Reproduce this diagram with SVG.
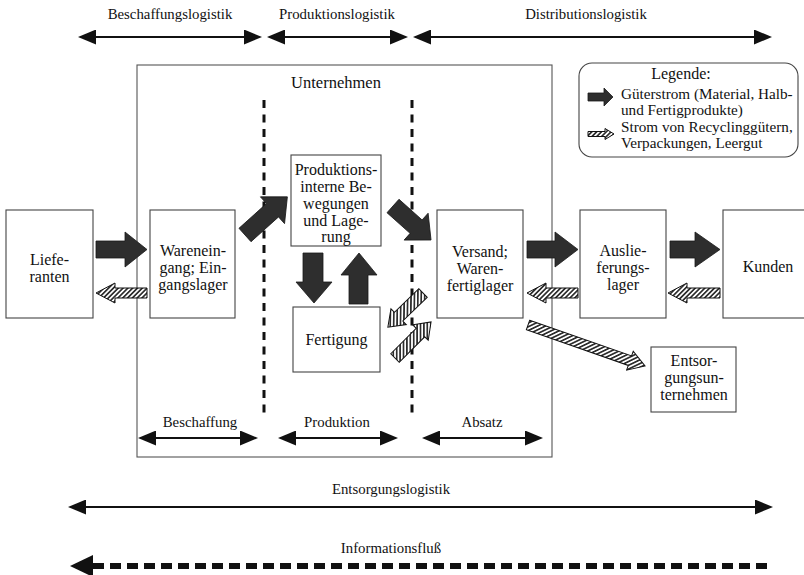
<svg xmlns="http://www.w3.org/2000/svg" width="804" height="575" viewBox="0 0 804 575">
  <style>
    text { font-family: "Liberation Serif", "Times New Roman", serif; fill: #111; }
    .node { font-size: 16px; text-anchor: middle; }
    .lbl { font-size: 14.8px; text-anchor: middle; }
    .leg { font-size: 15.2px; }
    .box { fill: #fff; stroke: #444; stroke-width: 1.1; }
    .frame { fill: none; stroke: #555; stroke-width: 1.1; }
    .solid { fill: #2e2e2e; stroke: #1a1a1a; stroke-width: 0.8; }
    .hatched { fill: url(#hatch); stroke: #111; stroke-width: 1; }
    .span { stroke: #111; stroke-width: 2; fill: none; marker-start: url(#head); marker-end: url(#head); }
    .divider { stroke: #111; stroke-width: 3; stroke-dasharray: 8 6.5; fill: none; }
  </style>
  <defs>
    <pattern id="hatch" width="3.4" height="3.4" patternUnits="userSpaceOnUse" patternTransform="rotate(-45)">
      <rect width="3.4" height="3.4" fill="#fff"/>
      <line x1="0" y1="1.7" x2="3.4" y2="1.7" stroke="#111" stroke-width="1.5"/>
    </pattern>
    <marker id="head" viewBox="0 0 18 15" refX="8" refY="7.5" markerWidth="18" markerHeight="15" markerUnits="userSpaceOnUse" orient="auto-start-reverse">
      <path d="M0,0 L18,7.5 L0,15 Z" fill="#111"/>
    </marker>
  </defs>

  <!-- logistics phase spans along the top -->
  <g id="phases">
    <text class="lbl" x="170" y="19">Beschaffungslogistik</text>
    <line class="span" x1="88" y1="37" x2="252" y2="37"/>
    <text class="lbl" x="337" y="19">Produktionslogistik</text>
    <line class="span" x1="277" y1="37" x2="398" y2="37"/>
    <text class="lbl" x="586" y="19">Distributionslogistik</text>
    <line class="span" x1="423" y1="37" x2="762" y2="37"/>
  </g>

  <!-- company frame with its internal divisions -->
  <g id="unternehmen">
    <rect class="frame" x="137" y="65" width="415" height="392"/>
    <text class="node" x="336" y="88" style="font-size:16.5px">Unternehmen</text>
    <line class="divider" x1="264" y1="100" x2="264" y2="415"/>
    <line class="divider" x1="412" y1="100" x2="412" y2="415"/>
    <text class="lbl" x="200" y="427">Beschaffung</text>
    <line class="span" x1="148" y1="438" x2="248" y2="438"/>
    <text class="lbl" x="337" y="427">Produktion</text>
    <line class="span" x1="288" y1="438" x2="388" y2="438"/>
    <text class="lbl" x="482" y="427">Absatz</text>
    <line class="span" x1="432" y1="438" x2="533" y2="438"/>
  </g>

  <!-- legend -->
  <g id="legende">
    <rect x="579" y="63" width="219" height="94" rx="13" fill="#fff" stroke="#444" stroke-width="1.1"/>
    <text x="681" y="79" style="font-size:16px;text-anchor:middle">Legende:</text>
    <polygon class="solid" points="588,93 604,93 604,88 613,97 604,106 604,101 588,101"/>
    <text class="leg" x="621" y="99">Güterstrom (Material, Halb-</text>
    <text class="leg" x="621" y="115">und Fertigprodukte)</text>
    <polygon class="hatched" points="588,131.5 605,131.5 605,128.5 614,134 605,139.5 605,136.5 588,136.5"/>
    <text class="leg" x="621" y="132">Strom von Recyclinggütern,</text>
    <text class="leg" x="621" y="148">Verpackungen, Leergut</text>
  </g>

  <!-- nodes -->
  <g id="lieferanten">
    <rect class="box" x="6" y="210" width="87" height="108"/>
    <text class="node" x="49.5" y="265">Liefe-</text>
    <text class="node" x="49.5" y="282">ranten</text>
  </g>
  <g id="wareneingang">
    <rect class="box" x="150" y="210" width="85" height="108"/>
    <text class="node" x="193" y="256">Warenein-</text>
    <text class="node" x="193" y="273">gang; Ein-</text>
    <text class="node" x="193" y="290">gangslager</text>
  </g>
  <g id="produktionsinterne">
    <rect class="box" x="291" y="155" width="90" height="91"/>
    <text class="node" x="336" y="175">Produktions-</text>
    <text class="node" x="336" y="192">interne Be-</text>
    <text class="node" x="336" y="209">wegungen</text>
    <text class="node" x="336" y="226">und Lage-</text>
    <text class="node" x="336" y="242">rung</text>
  </g>
  <g id="fertigung">
    <rect class="box" x="293" y="307" width="87" height="65"/>
    <text class="node" x="336.5" y="345">Fertigung</text>
  </g>
  <g id="versand">
    <rect class="box" x="437" y="210" width="86" height="108"/>
    <text class="node" x="480" y="257">Versand;</text>
    <text class="node" x="480" y="274">Waren-</text>
    <text class="node" x="480" y="291">fertiglager</text>
  </g>
  <g id="auslieferungslager">
    <rect class="box" x="580" y="210" width="86" height="108"/>
    <text class="node" x="623" y="256">Auslie-</text>
    <text class="node" x="623" y="273">ferungs-</text>
    <text class="node" x="623" y="290">lager</text>
  </g>
  <g id="kunden">
    <rect class="box" x="723" y="210" width="85" height="108"/>
    <text class="node" x="768" y="272">Kunden</text>
  </g>
  <g id="entsorgung">
    <rect class="box" x="651" y="347" width="85" height="65"/>
    <text class="node" x="694" y="366">Entsor-</text>
    <text class="node" x="694" y="383">gungsun-</text>
    <text class="node" x="694" y="400">ternehmen</text>
  </g>

  <!-- material and recycling flows -->
  <g id="connectors">
    <!-- goods flow -->
    <polygon class="solid" points="96,241 125,241 125,232 147,249.5 125,267 125,258 96,258"/>
    <polygon class="solid" transform="translate(245,235) rotate(-42)" points="0,-9 37,-9 37,-18 57,0 37,18 37,9 0,9"/>
    <polygon class="solid" points="303,253 323,253 323,282 332,282 314,303 296,282 303,282"/>
    <polygon class="solid" points="349,304 368,304 368,275 377,275 359,253 341,275 349,275"/>
    <polygon class="solid" transform="translate(393,206) rotate(41.8)" points="0,-9 31,-9 31,-18 51,0 31,18 31,9 0,9"/>
    <polygon class="solid" points="527,241 555,241 555,232 578,249.5 555,267 555,258 527,258"/>
    <polygon class="solid" points="670,241 695,241 695,232 720,249.5 695,267 695,258 670,258"/>

    <!-- recycling / packaging flow -->
    <polygon class="hatched" points="147,288 115,288 115,283 96,293 115,303 115,298 147,298"/>
    <polygon class="hatched" transform="translate(423,293) rotate(135.8)" points="0,-6 34,-6 34,-11 49,0 34,11 34,6 0,6"/>
    <polygon class="hatched" transform="translate(395,358) rotate(-45)" points="0,-6 36,-6 36,-11 51,0 36,11 36,6 0,6"/>
    <polygon class="hatched" points="578,288 546,288 546,283 527,293 546,303 546,298 578,298"/>
    <polygon class="hatched" points="720,288 687,288 687,283 668,293 687,303 687,298 720,298"/>
    <polygon class="hatched" transform="translate(528,325) rotate(19.3)" points="0,-5 108,-5 108,-10 124,0 108,10 108,5 0,5"/>
  </g>

  <!-- disposal logistics and information flow -->
  <g id="entsorgungslogistik">
    <text class="lbl" x="391" y="494">Entsorgungslogistik</text>
    <line class="span" x1="78" y1="507" x2="763" y2="507"/>
  </g>
  <g id="informationsfluss">
    <text class="lbl" x="391" y="553">Informationsfluß</text>
    <line x1="93" y1="566" x2="770" y2="566" stroke="#111" stroke-width="6" stroke-dasharray="11 6"/>
    <polygon points="70,566 93,555 93,577" fill="#111"/>
  </g>
</svg>
